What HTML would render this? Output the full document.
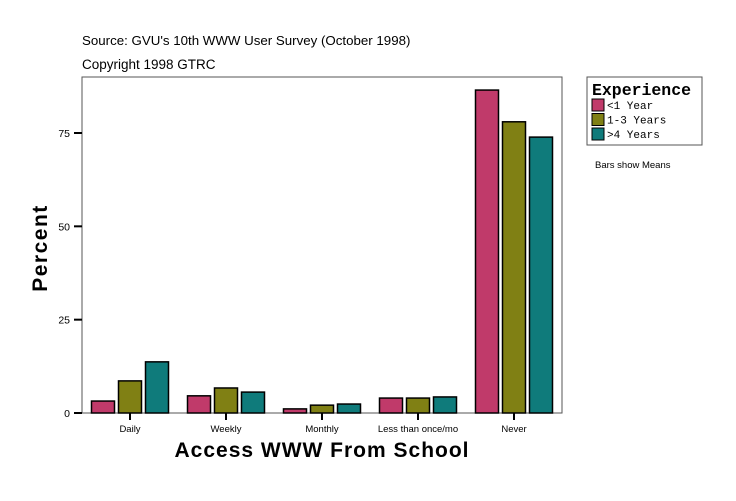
<!DOCTYPE html>
<html><head><meta charset="utf-8"><style>
body{margin:0;background:#fff}
svg text{font-family:"Liberation Sans",sans-serif}
</style></head><body>
<svg width="736" height="496" viewBox="0 0 736 496" xmlns="http://www.w3.org/2000/svg">
<rect width="736" height="496" fill="#fff"/>
<text x="82" y="45" font-size="13.3">Source: GVU's 10th WWW User Survey (October 1998)</text>
<text x="82" y="69" font-size="13.5">Copyright 1998 GTRC</text>
<rect x="82" y="77" width="480" height="336" fill="none" stroke="#555" stroke-width="1"/>
<g id="bars"></g>
<g id="axes"></g>
<text x="322" y="457" font-size="21" font-weight="bold" text-anchor="middle" letter-spacing="1">Access WWW From School</text>
<text transform="translate(47,248) rotate(-90)" font-size="21" font-weight="bold" text-anchor="middle" letter-spacing="1.5">Percent</text>
<g>
<rect x="587" y="77" width="115" height="68" fill="#fff" stroke="#555"/>
<text x="592" y="95" font-size="16.5" font-weight="bold" style="font-family:'Liberation Mono',monospace">Experience</text>
<g id="legend-items"></g>
</g>
<text x="595" y="168" font-size="9.5">Bars show Means</text>
</svg>
<script>
const categories=["Daily","Weekly","Monthly","Less than once/mo","Never"];
const seriesNames=["<1 Year","1-3 Years",">4 Years"];
const lt1=[3.2,4.6,1.1,4.0,86.5];
const y13=[8.6,6.7,2.1,4.0,78.0];
const gt4=[13.7,5.6,2.4,4.3,73.9];
const yTicks=[0,25,50,75];
const colors=["#C03A6A","#808014","#0F7B7B"];
const series=[lt1,y13,gt4];
const NS="http://www.w3.org/2000/svg";
const x0=82,pw=480,y0=413,ppu=280/75;
const yS=v=>y0-v*ppu;
const xC=i=>x0+pw/categories.length*(i+0.5);
function mk(t,a,p){const e=document.createElementNS(NS,t);for(const k in a)e.setAttribute(k,a[k]);p.appendChild(e);return e;}
const bars=document.getElementById('bars'),axes=document.getElementById('axes');
series.forEach((s,si)=>{s.forEach((v,i)=>{
 const r=mk('rect',{x:xC(i)-38.5+si*27,y:yS(v),width:23,height:y0-yS(v),fill:colors[si],stroke:'#000','stroke-width':1.5},bars);
 
 
});});
yTicks.forEach(t=>{
 const l=mk('line',{x1:x0-8,x2:x0,y1:yS(t),y2:yS(t),stroke:'#000','stroke-width':2},axes);
 
 
 const tx=mk('text',{x:x0-12,y:yS(t)+4,'font-size':10.5,'text-anchor':'end'},axes);
 tx.textContent=t;
 
 
});
categories.forEach((c,i)=>{
 const l=mk('line',{x1:xC(i),x2:xC(i),y1:y0,y2:y0+7,stroke:'#000','stroke-width':2},axes);
 
 
 const tx=mk('text',{x:xC(i),y:y0+19,'font-size':9.5,'text-anchor':'middle'},axes);
 tx.textContent=c;
 
 
});
const lg=document.getElementById('legend-items');
seriesNames.forEach((n,i)=>{
 const y=99+i*14.5;
 const r=mk('rect',{x:592,y:y,width:12,height:12,fill:colors[i],stroke:'#000'},lg);
 
 
 const t=mk('text',{x:607,y:y+10,'font-size':11,style:"font-family:'Liberation Mono',monospace"},lg);
 t.textContent=n;
 
 
});
</script>
</body></html>
